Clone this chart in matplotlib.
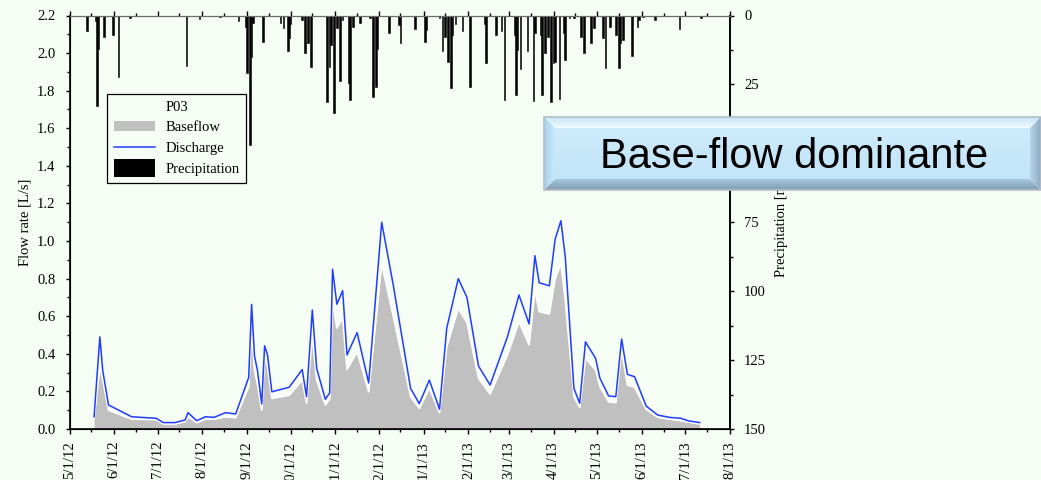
import numpy as np
import pandas as pd
import matplotlib
matplotlib.use('Agg')
import matplotlib.pyplot as plt
import matplotlib.dates as mdates
from matplotlib.patches import Polygon, Rectangle, Patch
from matplotlib.lines import Line2D
from matplotlib.legend_handler import HandlerPatch
from matplotlib.ticker import MultipleLocator, FuncFormatter

# Flow series
q_dates = ['2012-05-18', '2012-05-22', '2012-05-24', '2012-05-28', '2012-06-13', '2012-06-30',
           '2012-07-05', '2012-07-13', '2012-07-20', '2012-07-22', '2012-07-28', '2012-08-03',
           '2012-08-09', '2012-08-17', '2012-08-24', '2012-09-02', '2012-09-04', '2012-09-06',
           '2012-09-08', '2012-09-11', '2012-09-13', '2012-09-15', '2012-09-18', '2012-09-30',
           '2012-10-09', '2012-10-12', '2012-10-16', '2012-10-19', '2012-10-25', '2012-10-28',
           '2012-10-30', '2012-11-02', '2012-11-06', '2012-11-09', '2012-11-16', '2012-11-24',
           '2012-12-03', '2012-12-11', '2012-12-23', '2012-12-29', '2013-01-05', '2013-01-12',
           '2013-01-17', '2013-01-25', '2013-01-31', '2013-02-08', '2013-02-16', '2013-02-28',
           '2013-03-08', '2013-03-15', '2013-03-19', '2013-03-22', '2013-03-29', '2013-04-02',
           '2013-04-06', '2013-04-09', '2013-04-15', '2013-04-19', '2013-04-23', '2013-04-30',
           '2013-05-03', '2013-05-09', '2013-05-14', '2013-05-18', '2013-05-22', '2013-05-27',
           '2013-06-04', '2013-06-12', '2013-06-20', '2013-06-28', '2013-07-03', '2013-07-11']
discharge = [0.065, 0.49, 0.31, 0.128, 0.065, 0.057,
             0.034, 0.034, 0.048, 0.087, 0.044, 0.065,
             0.062, 0.087, 0.080, 0.275, 0.663, 0.388,
             0.314, 0.133, 0.443, 0.394, 0.198, 0.222,
             0.316, 0.172, 0.633, 0.323, 0.158, 0.192,
             0.850, 0.664, 0.736, 0.394, 0.513, 0.245,
             1.100, 0.766, 0.216, 0.135, 0.260, 0.105,
             0.536, 0.800, 0.700, 0.335, 0.234, 0.490,
             0.713, 0.559, 0.922, 0.778, 0.762, 1.009,
             1.108, 0.917, 0.216, 0.137, 0.464, 0.376,
             0.270, 0.176, 0.172, 0.479, 0.291, 0.278,
             0.122, 0.074, 0.062, 0.057, 0.044, 0.034]
baseflow = [0.055, 0.33, 0.26, 0.100, 0.052, 0.050,
            0.027, 0.027, 0.040, 0.065, 0.034, 0.052,
            0.052, 0.065, 0.060, 0.225, 0.520, 0.310,
            0.240, 0.100, 0.380, 0.330, 0.163, 0.180,
            0.260, 0.137, 0.500, 0.260, 0.128, 0.160,
            0.680, 0.537, 0.590, 0.317, 0.410, 0.198,
            0.880, 0.600, 0.172, 0.110, 0.216, 0.087,
            0.438, 0.642, 0.566, 0.270, 0.186, 0.394,
            0.571, 0.447, 0.740, 0.624, 0.612, 0.800,
            0.880, 0.686, 0.172, 0.115, 0.376, 0.314,
            0.225, 0.145, 0.140, 0.420, 0.234, 0.222,
            0.105, 0.062, 0.052, 0.044, 0.037, 0.027]

# Daily precipitation [mm]
p_dates = ['2012-05-01', '2012-05-13', '2012-05-19', '2012-05-20', '2012-05-21', '2012-05-25',
           '2012-05-31', '2012-06-04', '2012-06-12', '2012-07-21', '2012-07-30', '2012-08-13',
           '2012-08-26', '2012-08-31', '2012-09-01', '2012-09-03', '2012-09-04', '2012-09-05',
           '2012-09-12', '2012-09-24', '2012-09-26', '2012-09-29', '2012-09-30', '2012-10-01',
           '2012-10-09', '2012-10-11', '2012-10-13', '2012-10-15', '2012-10-26', '2012-10-28',
           '2012-10-29', '2012-10-31', '2012-11-02', '2012-11-04', '2012-11-06', '2012-11-10',
           '2012-11-11', '2012-11-13', '2012-11-18', '2012-11-25', '2012-11-27', '2012-11-29',
           '2012-11-30', '2012-12-08', '2012-12-15', '2012-12-16', '2012-12-26', '2013-01-02',
           '2013-01-03', '2013-01-12', '2013-01-14', '2013-01-16', '2013-01-18', '2013-01-20',
           '2013-01-21', '2013-01-23', '2013-01-28', '2013-02-02', '2013-02-12', '2013-02-13',
           '2013-02-20', '2013-02-24', '2013-02-26', '2013-03-05', '2013-03-06', '2013-03-07',
           '2013-03-09', '2013-03-14', '2013-03-18', '2013-03-19', '2013-03-23', '2013-03-24',
           '2013-03-26', '2013-03-28', '2013-03-30', '2013-04-01', '2013-04-02', '2013-04-05',
           '2013-04-08', '2013-04-09', '2013-04-12', '2013-04-15', '2013-04-20', '2013-04-22',
           '2013-04-27', '2013-04-29', '2013-05-05', '2013-05-07', '2013-05-10', '2013-05-14',
           '2013-05-16', '2013-05-17', '2013-05-19', '2013-05-25', '2013-05-29', '2013-05-30',
           '2013-06-02', '2013-06-10', '2013-06-27', '2013-07-12']
precip = [21.0, 5.5, 2.0, 32.8, 12.0, 7.7,
          7.0, 22.4, 1.0, 18.2, 1.2, 0.5,
          2.0, 4.0, 21.0, 46.8, 15.0, 2.6,
          9.5, 2.6, 4.7, 13.0, 8.0, 3.0,
          1.6, 13.5, 10.0, 18.6, 31.3, 18.6,
          10.7, 35.3, 4.7, 23.7, 1.6, 24.4,
          30.7, 4.0, 2.6, 1.0, 29.5, 25.8,
          12.0, 6.5, 3.4, 10.0, 5.0, 9.5,
          5.3, 1.0, 13.0, 7.7, 17.0, 26.4,
          7.0, 3.0, 5.8, 25.8, 3.0, 17.3,
          7.0, 5.8, 30.7, 7.0, 29.0, 12.5,
          19.5, 13.0, 30.9, 6.5, 7.0, 28.8,
          13.7, 7.7, 31.3, 17.3, 17.0, 30.4,
          6.5, 16.0, 1.0, 1.0, 7.7, 13.5,
          10.0, 4.7, 8.3, 19.0, 4.0, 7.0,
          19.0, 10.0, 9.0, 14.7, 4.0, 1.5,
          0.5, 1.6, 5.0, 1.0]

BG = '#F5FDF4'
plt.rcParams['font.family'] = ['Liberation Serif', 'DejaVu Serif']
plt.rcParams['font.size'] = 10.5

qd = pd.to_datetime(q_dates)
pdts = pd.to_datetime(p_dates)

fig = plt.figure(figsize=(10.41, 4.80), dpi=100, facecolor=BG)
ax = fig.add_axes([69.5 / 1041, 51 / 480, 660.5 / 1041, 413.5 / 480], facecolor=BG)

# Flow: baseflow area + discharge line
ax.fill_between(qd, baseflow, 0, color='#C0C0C0', lw=0, zorder=1)
ax.plot(qd, baseflow, color='white', lw=1.2, zorder=1.5)
ax.plot(qd, discharge, color='#1f3cff', lw=1.1, zorder=2)

ax.set_xlim(pd.Timestamp('2012-05-01'), pd.Timestamp('2013-08-01'))
ax.set_ylim(0, 2.2)
ax.yaxis.set_major_locator(MultipleLocator(0.2))
ax.yaxis.set_minor_locator(MultipleLocator(0.1))
ax.yaxis.set_major_formatter(FuncFormatter(lambda v, p: f'{v:.1f}'))
ax.xaxis.set_major_locator(mdates.MonthLocator(bymonthday=1))
ax.xaxis.set_minor_locator(mdates.MonthLocator(bymonthday=16))
ax.xaxis.set_major_formatter(FuncFormatter(
    lambda v, p: '{d.month}/{d.day}/{y:02d}'.format(d=mdates.num2date(v), y=mdates.num2date(v).year % 100)))
ax.tick_params(axis='x', which='major', direction='out', length=3.6, width=1, top=True,
               labelrotation=90, pad=5)
ax.tick_params(axis='x', which='minor', direction='out', length=2.2, width=1, top=True)
ax.tick_params(axis='y', which='major', direction='out', length=3.2, width=1, pad=7)
ax.tick_params(axis='y', which='minor', direction='out', length=2, width=1)
ax.set_ylabel('Flow rate [L/s]', labelpad=4)
for s in ['left', 'bottom', 'right']:
    ax.spines[s].set_linewidth(1.2)
ax.spines['top'].set_color('#6a6a6a')

# Precipitation on inverted right axis
ax2 = ax.twinx()
ax2.bar(pdts, precip, width=1.1, color='black', edgecolor='black', lw=0.4, zorder=2)
ax2.set_ylim(150, 0)
ax2.yaxis.set_major_locator(MultipleLocator(25))
ax2.yaxis.set_minor_locator(MultipleLocator(12.5))
ax2.tick_params(axis='y', which='major', direction='out', length=3.2, width=1, pad=7)
ax2.tick_params(axis='y', which='minor', direction='out', length=2, width=1)
ax2.set_ylabel('Precipitation [mm]', labelpad=6, rotation=90)
ax2.spines['right'].set_linewidth(1.2)
ax2.spines['top'].set_color('#6a6a6a')


def tall_patch(legend, orig_handle, xdescent, ydescent, width, height, fontsize):
    return Rectangle((-xdescent, -ydescent - 0.35 * height), width, 1.7 * height)


handles = [Patch(facecolor='#C0C0C0', edgecolor='none'),
           Line2D([], [], color='#1f3cff', lw=1.1),
           Patch(facecolor='black', edgecolor='none')]
leg = ax2.legend(handles, ['Baseflow', 'Discharge', 'Precipitation'], title='P03',
                 loc='upper left', bbox_to_anchor=((107 - 69.5) / 660.5, (429 - 94) / 413.5),
                 borderaxespad=0, frameon=True, fancybox=False, framealpha=1,
                 facecolor=BG, edgecolor='black', handlelength=2.85, handletextpad=0.7,
                 labelspacing=0.52, borderpad=0.45,
                 handler_map={handles[2]: HandlerPatch(patch_func=tall_patch)})
leg.get_frame().set_linewidth(0.9)

# Bevelled "Base-flow dominante" banner on top
ov = fig.add_axes([0, 0, 1, 1], zorder=10)
ov.set_xlim(0, 1041)
ov.set_ylim(480, 0)
ov.axis('off')
L, R, T, B = 544, 1041, 117, 190
bw = 11


def grad_poly(pts, c0, c1, horizontal=False):
    poly = Polygon(pts, closed=True, facecolor='none', edgecolor='none')
    ov.add_patch(poly)
    xs = [p[0] for p in pts]
    ys = [p[1] for p in pts]
    c0 = np.array(matplotlib.colors.to_rgb(c0))
    c1 = np.array(matplotlib.colors.to_rgb(c1))
    t = np.linspace(0, 1, 64)
    g = c0[None, :] * (1 - t[:, None]) + c1[None, :] * t[:, None]
    img = g[None, :, :] if horizontal else g[:, None, :]
    im = ov.imshow(img, extent=(min(xs), max(xs), max(ys), min(ys)), aspect='auto',
                   interpolation='bilinear')
    im.set_clip_path(poly)


grad_poly([(L + bw, T + bw), (R - bw, T + bw), (R - bw, B - bw), (L + bw, B - bw)],
          '#CDEBFB', '#C2E5F8')
grad_poly([(L, T), (R, T), (R - bw, T + bw), (L + bw, T + bw)], '#C4E3F6', '#F2FBFF')
grad_poly([(L, B), (L + bw, B - bw), (R - bw, B - bw), (R, B)], '#A9C8DD', '#7F9CB4')
grad_poly([(L, T), (L + bw, T + bw), (L + bw, B - bw), (L, B)], '#A8D2EE', '#C8E8FA', horizontal=True)
grad_poly([(R, T), (R, B), (R - bw, B - bw), (R - bw, T + bw)], '#B5D5EA', '#8EAAC2', horizontal=True)
ov.add_patch(Rectangle((L, T), R - L, B - T, facecolor='none', edgecolor='#B4BEC6', lw=1.2))
ov.text((L + R) / 2 + 2, 168, 'Base-flow dominante', fontsize=30, family='Liberation Sans',
        ha='center', va='baseline', color='black')

fig.savefig('out.png', dpi=100, facecolor=BG)
